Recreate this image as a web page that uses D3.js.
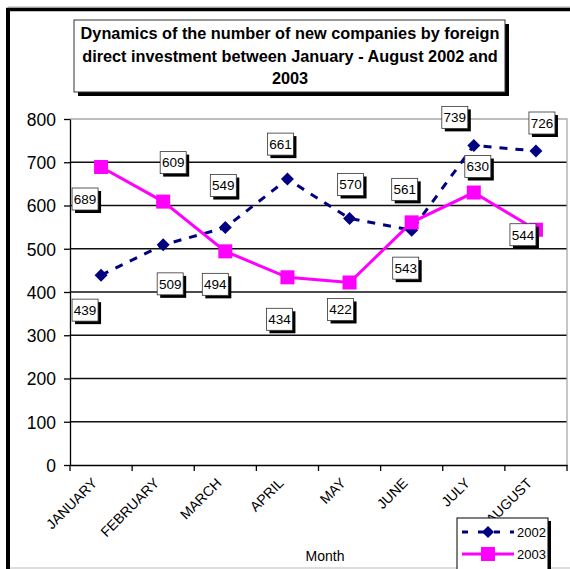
<!DOCTYPE html>
<html><head><meta charset="utf-8">
<script src="https://cdn.jsdelivr.net/npm/d3@7"></script>
<style>html,body{margin:0;padding:0;background:#fff;} svg{display:block;font-family:Arial,"Liberation Sans",sans-serif;}</style>
</head><body>
<script>
const months = ["JANUARY","FEBRUARY","MARCH","APRIL","MAY","JUNE","JULY","AUGUST"];
const values2002 = [439,509,549,661,570,543,739,726];
const values2003 = [689,609,494,434,422,561,630,544];
const yTicks = [0,100,200,300,400,500,600,700,800];
const titleLines = ["Dynamics of the number of new companies by foreign","direct investment between January - August 2002 and","2003"];
const xTitle = "Month";
const seriesNames = ["2002","2003"];
// label placement offsets (layout only)
const off2002 = [[-16,35],[7,39],[-2,-42],[-7,-35],[1,-34],[-6,38],[-19,-28],[6,-28]];
const off2003 = [[-16,32],[10,-39],[-10,33],[-8,42],[-9,27],[-7,-33],[4,-26],[-13,5]];

const W=570,H=569;
const svg=d3.select("body").append("svg").attr("width",W).attr("height",H);
// outer frame
svg.append("line").attr("x1",8).attr("x2",570).attr("y1",7).attr("y2",7).attr("stroke","#aaa").attr("stroke-width",1);
svg.append("line").attr("x1",6).attr("x2",570).attr("y1",9.5).attr("y2",9.5).attr("stroke","#000").attr("stroke-width",3.5);
svg.append("line").attr("x1",8).attr("x2",8).attr("y1",8).attr("y2",569).attr("stroke","#000").attr("stroke-width",4);
svg.append("line").attr("x1",10).attr("x2",570).attr("y1",568).attr("y2",568).attr("stroke","#bbb").attr("stroke-width",1);

const L=70,R=567,T=119,B=465;
const x=d3.scaleBand().domain(months).range([L,R]).padding(0);
const cx=m=>x(m)+x.bandwidth()/2;
const y=d3.scaleLinear().domain([0,800]).range([B,T]);

// grid
svg.append("g").selectAll("line").data(yTicks.filter(t=>t>0&&t<800)).join("line")
  .attr("x1",L).attr("x2",R).attr("y1",d=>y(d)).attr("y2",d=>y(d)).attr("stroke","#111").attr("stroke-width",1.3);
// plot border top/right gray
svg.append("path").attr("d",`M${L},${T}H${R}V${B}`).attr("fill","none").attr("stroke","#a8a8a8").attr("stroke-width",1.3);

// y axis
const ya=svg.append("g").attr("transform",`translate(${L},0)`).call(d3.axisLeft(y).tickValues(yTicks).tickSize(6).tickSizeOuter(0));
ya.select(".domain").attr("stroke","#000").attr("stroke-width",1.3);
ya.selectAll(".tick line").attr("stroke","#000").attr("stroke-width",1.3);
ya.selectAll(".tick text").attr("font-size",17.5).attr("font-family","Arial, Liberation Sans, sans-serif").attr("fill","#000").attr("x",-14).attr("dy","0.36em");

// x axis
const xa=svg.append("g").attr("transform",`translate(0,${B})`).call(d3.axisBottom(x).tickSize(0).tickSizeOuter(0));
xa.select(".domain").attr("stroke","#000").attr("stroke-width",1.3);
xa.selectAll(".tick text").attr("font-size",14).attr("font-family","Arial, Liberation Sans, sans-serif").attr("fill","#000")
  .attr("text-anchor","end").attr("y",0).attr("dy",0)
  .attr("transform","translate(-3,19) rotate(-45)");
// boundary ticks
const bounds=months.map(m=>x(m)).concat([R]);
svg.append("g").selectAll("line").data(bounds).join("line")
  .attr("x1",d=>d).attr("x2",d=>d).attr("y1",B).attr("y2",B+6).attr("stroke","#000").attr("stroke-width",1.3);

// lines
const line=d3.line().x((d,i)=>cx(months[i])).y(d=>y(d));
svg.append("path").datum(values2002).attr("d",line).attr("fill","none").attr("stroke","#000080").attr("stroke-width",3).attr("stroke-dasharray","8,8");
svg.append("path").datum(values2003).attr("d",line).attr("fill","none").attr("stroke","#FF00FF").attr("stroke-width",3);

// markers
const diamond=(px,py,r)=>`M${px},${py-r}L${px+r},${py}L${px},${py+r}L${px-r},${py}Z`;
svg.append("g").selectAll("path").data(values2002).join("path")
  .attr("d",(d,i)=>diamond(cx(months[i]),y(d),6.5)).attr("fill","#000080");
svg.append("g").selectAll("rect").data(values2003).join("rect")
  .attr("x",(d,i)=>cx(months[i])-7).attr("y",d=>y(d)-7).attr("width",14).attr("height",14).attr("fill","#FF00FF");

// data labels
function labels(vals,offs){
  const g=svg.append("g");
  vals.forEach((v,i)=>{
    const px=cx(months[i])+offs[i][0], py=y(v)+offs[i][1];
    const w=26,h=22;
    g.append("rect").attr("x",px-w/2+3).attr("y",py-h/2+3).attr("width",w).attr("height",h).attr("fill","#000");
    g.append("rect").attr("x",px-w/2).attr("y",py-h/2).attr("width",w).attr("height",h).attr("fill","#fff").attr("stroke","#333").attr("stroke-width",0.8);
    g.append("text").attr("x",px).attr("y",py).attr("dy","0.36em").attr("text-anchor","middle").attr("font-size",13.5).attr("fill","#000").text(v);
  });
}
labels(values2002,off2002);
labels(values2003,off2003);

// title box
svg.append("rect").attr("x",78).attr("y",24).attr("width",431).attr("height",72).attr("fill","#000");
svg.append("rect").attr("x",74).attr("y",20).attr("width",431).attr("height",72).attr("fill","#fff").attr("stroke","#333").attr("stroke-width",1);
svg.append("g").selectAll("text").data(titleLines).join("text")
  .attr("x",290).attr("y",(d,i)=>39+i*22.5).attr("text-anchor","middle").attr("font-size",16.3).attr("font-weight","bold").attr("fill","#000").text(d=>d);

// x title
svg.append("text").attr("x",325).attr("y",561).attr("text-anchor","middle").attr("font-size",14).attr("fill","#000").text(xTitle);

// legend
svg.append("rect").attr("x",460).attr("y",521).attr("width",91).attr("height",60).attr("fill","#000");
svg.append("rect").attr("x",457).attr("y",518).attr("width",91).attr("height",60).attr("fill","#fff").attr("stroke","#000").attr("stroke-width",1);
const ly=[532,554];
svg.append("line").attr("x1",462).attr("x2",514).attr("y1",ly[0]).attr("y2",ly[0]).attr("stroke","#000080").attr("stroke-width",3).attr("stroke-dasharray","6,10").attr("stroke-dashoffset",0);
svg.append("path").attr("d",diamond(488,ly[0],6)).attr("fill","#000080");
svg.append("line").attr("x1",462).attr("x2",514).attr("y1",ly[1]).attr("y2",ly[1]).attr("stroke","#FF00FF").attr("stroke-width",3);
svg.append("rect").attr("x",481).attr("y",ly[1]-7).attr("width",14).attr("height",14).attr("fill","#FF00FF");
svg.append("g").selectAll("text").data(seriesNames).join("text")
  .attr("x",517).attr("y",(d,i)=>ly[i]).attr("dy","0.36em").attr("font-size",13).attr("fill","#000").text(d=>d);
</script>
</body></html>
